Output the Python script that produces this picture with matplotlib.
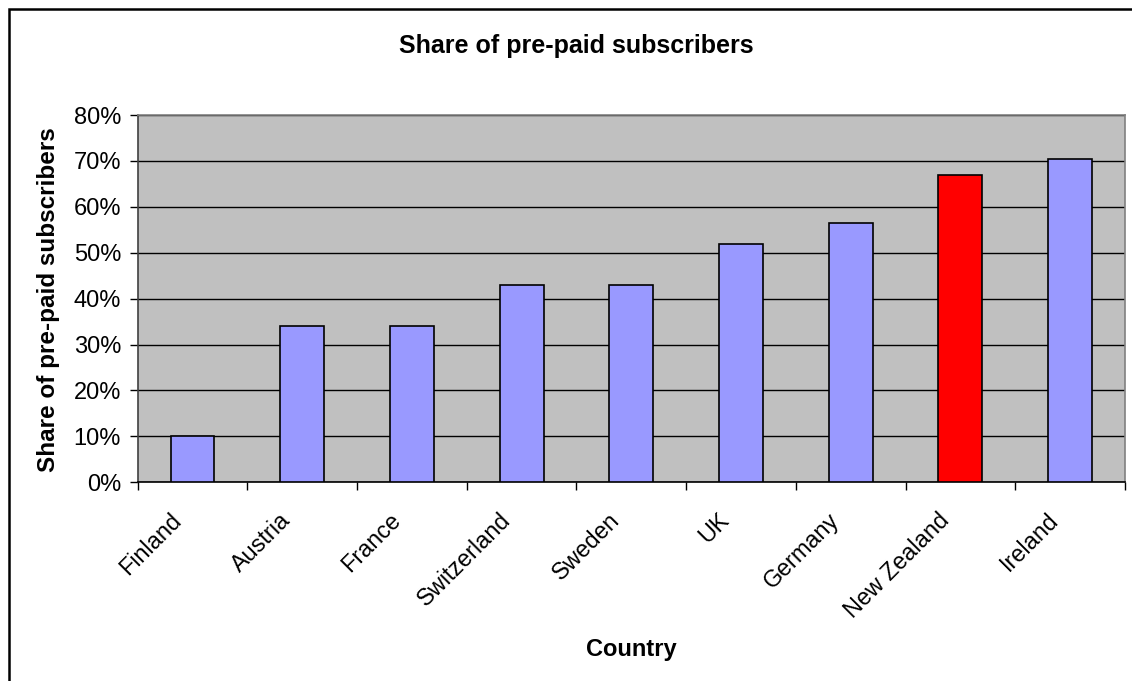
import matplotlib.pyplot as plt
from matplotlib.patches import Rectangle
from matplotlib.ticker import PercentFormatter, FixedLocator
from matplotlib.transforms import ScaledTranslation
import numpy as np

plt.rcParams['font.family'] = ['Liberation Sans', 'DejaVu Sans']

countries = ["Finland", "Austria", "France", "Switzerland", "Sweden",
             "UK", "Germany", "New Zealand", "Ireland"]
prepaid_share = [10, 34, 34, 43, 43, 52, 56.5, 67, 70.4]
highlight = "New Zealand"

colors = ["#FF0000" if c == highlight else "#9999FF" for c in countries]

fig = plt.figure(figsize=(11.32, 6.81), dpi=100)
ax = fig.add_axes([0.1216, 0.2918, 0.8722, 0.5393])

x = np.arange(len(countries))
ax.bar(x, prepaid_share, width=0.4, color=colors, edgecolor="black",
       linewidth=1.2, zorder=3)

ax.set_facecolor("#C0C0C0")
ax.set_xlim(-0.5, len(countries) - 0.5)
ax.set_ylim(0, 80)
ax.set_yticks(np.arange(0, 81, 10))
ax.yaxis.set_major_formatter(PercentFormatter(xmax=100, decimals=0))
ax.yaxis.grid(True, color="black", linewidth=1.0, zorder=1)
ax.set_axisbelow(True)

# category labels in the middle, tick marks between categories
ax.set_xticks(x)
ax.set_xticklabels(countries, rotation=45, ha="right", va="center",
                   rotation_mode="anchor")
ax.xaxis.set_minor_locator(FixedLocator(np.arange(-0.5, len(countries), 1.0)))
ax.tick_params(axis="x", which="major", length=0, pad=25, labelsize=16.8)
ax.tick_params(axis="x", which="minor", length=6, width=1.0, color="black", direction="out")
ax.tick_params(axis="y", length=6, width=1.0, direction="out", labelsize=17, pad=6)

# nudge the slanted labels left so their ends sit just short of the category centre
shift = ScaledTranslation(-0.15, 0.0, fig.dpi_scale_trans)
for lbl in ax.get_xticklabels():
    lbl.set_transform(lbl.get_transform() + shift)

for side in ("top", "right"):
    ax.spines[side].set_color("#808080")
    ax.spines[side].set_linewidth(1.2)
ax.spines["left"].set_color("#404040")
ax.spines["bottom"].set_color("black")
for side in ("left", "bottom"):
    ax.spines[side].set_linewidth(1.2)

fig.text(0.5088, 0.9325, "Share of pre-paid subscribers", ha="center", va="center",
         fontsize=18, fontweight="bold")
fig.text(0.558, 0.046, "Country", ha="center", va="center",
         fontsize=17, fontweight="bold")
fig.text(0.0425, 0.5595, "Share of pre-paid subscribers", ha="center", va="center",
         rotation=90, fontsize=17.5, fontweight="bold")

# outer chart frame (right and bottom edges run off the canvas)
fig.patches.append(Rectangle((8.5 / 1132, -0.5), 2.0, 1.5 - 8.5 / 681,
                             transform=fig.transFigure, fill=False,
                             edgecolor="black", linewidth=1.8))

fig.savefig("out.png", dpi=100)
